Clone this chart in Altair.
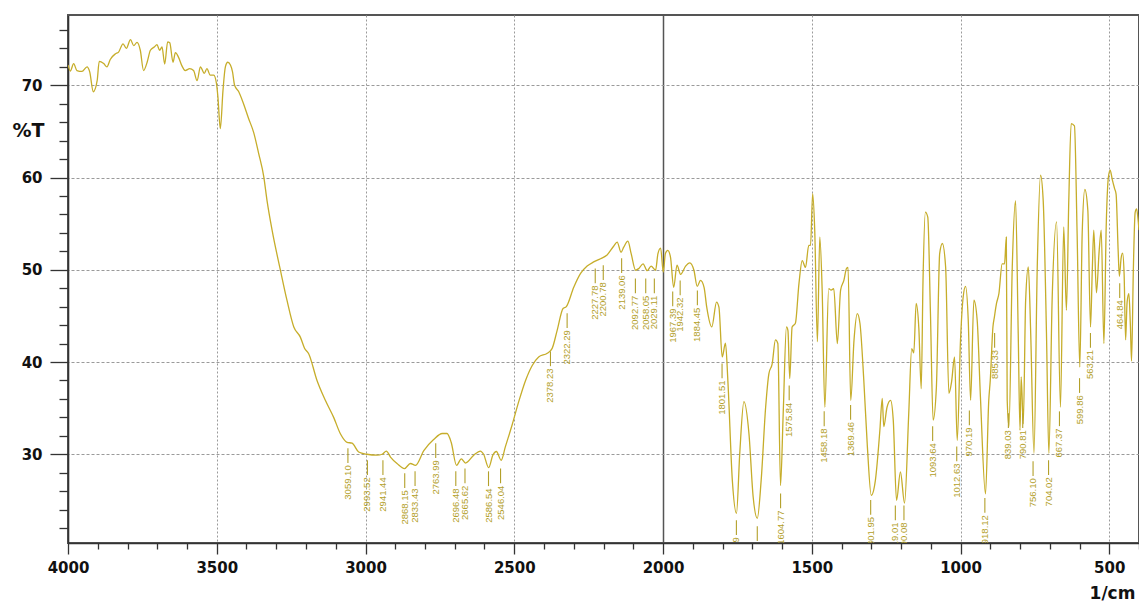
import altair as alt
import pandas as pd

# ---- spectrum (wavenumber in 1/cm, transmittance in %T) ----
wavenumber = [
    4000, 3992, 3981, 3970, 3953, 3936, 3927, 3915, 3902, 3895, 3880, 3869, 3858, 3841, 3830,
    3815, 3804, 3790, 3779, 3768, 3757, 3746, 3734, 3723, 3710, 3701, 3692, 3684, 3675, 3665,
    3658, 3647, 3639, 3628, 3617, 3606, 3591, 3578, 3566, 3555, 3542, 3533, 3522, 3510, 3501,
    3496, 3488, 3479, 3471, 3463, 3454, 3447, 3440, 3426, 3410, 3393, 3376, 3359, 3342, 3331,
    3314, 3286, 3264, 3241, 3219, 3205, 3191, 3163, 3135, 3107, 3084, 3062, 3045, 3023, 2995,
    2961, 2944, 2930, 2916, 2894, 2869, 2849, 2832, 2804, 2771, 2742, 2726, 2712, 2694, 2678,
    2664, 2636, 2614, 2603, 2586, 2572, 2560, 2544, 2530, 2507, 2485, 2462, 2440, 2418, 2389,
    2373, 2356, 2336, 2325, 2300, 2277, 2255, 2233, 2210, 2188, 2166, 2154, 2141, 2132, 2118,
    2107, 2092, 2081, 2067, 2053, 2040, 2025, 2017, 2008, 1999, 1992, 1984, 1975, 1964, 1953,
    1941, 1924, 1910, 1896, 1885, 1874, 1862, 1853, 1836, 1820, 1812, 1801, 1790, 1782, 1767,
    1753, 1742, 1728, 1711, 1697, 1683, 1670, 1655, 1644, 1633, 1622, 1614, 1605, 1596, 1585,
    1580, 1574, 1566, 1555, 1543, 1532, 1521, 1510, 1504, 1497, 1490, 1481, 1473, 1465, 1456,
    1443, 1435, 1426, 1414, 1403, 1392, 1383, 1378, 1369, 1358, 1347, 1338, 1325, 1313, 1300,
    1286, 1271, 1263, 1258, 1247, 1235, 1226, 1215, 1202, 1188, 1174, 1164, 1157, 1149, 1140,
    1132, 1126, 1118, 1110, 1101, 1092, 1081, 1070, 1061, 1050, 1039, 1030, 1020, 1011, 1000,
    991, 983, 974, 966, 955, 944, 933, 916, 905, 900, 891, 886, 879, 871, 860,
    852, 846, 843, 837, 826, 815, 806, 800, 796, 789, 781, 772, 764, 753, 742,
    731, 722, 711, 703, 692, 677, 664, 653, 644, 636, 628, 617, 608, 599, 591,
    582, 572, 563, 557, 552, 543, 534, 527, 518, 510, 503, 497, 490, 482, 477,
    470, 466, 460, 455, 450, 445, 440, 434, 429, 425, 419, 413, 408, 403, 400,
]
transmittance = [
    72.2, 71.55, 72.35, 71.6, 71.5, 72.0, 71.45, 69.3, 70.5, 72.6, 72.35, 72.0, 72.8, 73.4, 73.6,
    74.5, 74.0, 74.95, 74.3, 74.65, 73.8, 71.6, 72.5, 73.8, 74.15, 74.4, 73.8, 74.15, 72.3, 74.7,
    74.6, 72.5, 73.55, 73.0, 72.1, 71.6, 71.8, 71.6, 70.5, 72.0, 71.3, 71.8, 71.1, 71.1, 70.2,
    68.7, 65.3, 69.45, 72.0, 72.5, 72.2, 71.45, 70.0, 69.3, 68.0, 66.4, 64.9, 62.6, 60.1, 57.5,
    54.3, 49.95, 46.7, 43.8, 42.7, 41.5, 40.9, 38.0, 35.85, 34.0, 32.2, 31.3, 31.2, 30.25, 30.0,
    29.9, 30.0, 30.35, 29.7, 29.0, 28.45, 29.0, 28.8, 30.4, 31.6, 32.25, 32.25, 31.3, 28.8, 29.5,
    29.05, 29.9, 30.35, 30.0, 28.55, 29.9, 30.3, 29.35, 30.8, 33.2, 35.7, 38.0, 39.6, 40.55, 40.95,
    41.45, 43.4, 45.8, 46.0, 48.1, 49.6, 50.4, 50.85, 51.2, 51.6, 52.55, 53.0, 51.9, 52.45, 53.1,
    51.75, 49.95, 50.15, 50.65, 49.9, 50.4, 49.95, 51.75, 52.35, 49.75, 51.75, 52.1, 51.4, 48.1, 50.5,
    49.5, 50.4, 50.75, 49.95, 48.2, 48.85, 48.1, 45.95, 43.8, 46.5, 45.95, 40.55, 42.05, 38.0, 27.2,
    23.6, 30.1, 35.7, 32.2, 25.4, 23.05, 27.2, 35.1, 38.75, 39.8, 42.4, 42.0, 26.6, 34.4, 43.8,
    43.4, 38.2, 43.8, 44.2, 48.5, 51.0, 50.25, 52.65, 52.65, 58.25, 54.3, 42.2, 53.55, 47.8, 35.1,
    47.95, 47.8, 47.95, 42.0, 47.8, 48.85, 50.15, 50.25, 35.85, 42.35, 45.25, 44.2, 38.0, 30.8, 25.55,
    27.2, 32.6, 36.05, 33.0, 35.1, 35.85, 33.7, 25.0, 28.1, 24.7, 34.4, 41.45, 41.0, 46.35, 43.65,
    37.1, 48.85, 56.25, 55.7, 45.25, 33.7, 37.3, 51.75, 52.85, 50.3, 36.6, 37.85, 40.55, 31.5, 42.35,
    47.05, 48.2, 44.55, 35.85, 46.7, 44.55, 36.2, 25.7, 35.85, 38.0, 43.8, 44.9, 46.35, 47.4, 50.65,
    50.65, 53.55, 35.85, 33.0, 50.3, 57.5, 43.1, 32.6, 38.4, 33.3, 46.7, 50.3, 43.1, 30.1, 50.3,
    60.25, 57.5, 43.1, 30.1, 46.7, 55.2, 35.1, 54.65, 45.6, 57.5, 65.85, 65.6, 53.9, 39.45, 53.9,
    58.7, 56.45, 43.8, 50.0, 54.3, 47.5, 52.0, 54.3, 42.0, 55.0, 60.0, 60.8, 59.8, 58.8, 58.2,
    52.0, 49.3, 51.3, 51.8, 49.5, 42.4, 46.5, 47.4, 44.0, 40.1, 50.0, 56.2, 56.6, 55.4, 54.3,
]

# ---- peak annotations: label text and the %T level where the label starts ----
peak_labels = [
    "3059.10", "2993.52", "2941.44", "2868.15", "2833.43", "2763.99", "2696.48", "2665.62",
    "2586.54", "2546.04", "2378.23", "2322.29", "2227.78", "2200.78", "2139.06", "2092.77",
    "2058.05", "2029.11", "1967.39", "1942.32", "1884.45", "1801.51", "1753.29", "1683.09",
    "1604.77", "1575.84", "1458.18", "1369.46", "1301.95", "1219.01", "1190.08", "1093.64",
    "1012.63", "970.19", "918.12", "885.33", "839.03", "790.81", "756.10", "704.02",
    "667.37", "599.86", "563.21", "464.84",
]
peak_level = [
    28.8, 27.5, 27.5, 26.1, 26.3, 29.35, 26.3, 26.6,
    26.3, 26.6, 39.3, 43.45, 48.3, 48.65, 49.4, 47.2,
    47.2, 47.2, 45.8, 47.0, 45.9, 38.0, 21.0, 20.35,
    23.9, 35.6, 32.8, 33.5, 23.2, 22.6, 22.6, 31.2,
    29.0, 32.9, 23.4, 41.3, 32.6, 32.6, 27.4, 27.5,
    32.8, 36.4, 41.3, 46.7,
]

x_ticks = list(range(400, 4001, 100))
y_ticks = list(range(22, 77, 2))

LINE_COLOR = "#c6ad2a"
TEXT_COLOR = "#b3a02a"
AXIS_FONT = "DejaVu Sans"

spec = pd.DataFrame({"wn": wavenumber, "t": transmittance})
peaks = pd.DataFrame({
    "label": peak_labels,
    "wn": [float(s) for s in peak_labels],
    "level": peak_level,
})

x_scale = alt.Scale(domain=[400, 4000], reverse=True, nice=False, zero=False)
y_scale = alt.Scale(domain=[20.38, 77.62], nice=False, zero=False)

x_axis = alt.Axis(
    values=x_ticks,
    tickCount=500,
    format="d",
    labelExpr="datum.value % 500 === 0 ? datum.label : ''",
    tickSize={"condition": {"test": "datum.value % 500 === 0", "value": 11}, "value": 6},
    gridOpacity={"condition": {"test": "datum.value % 500 === 0", "value": 1}, "value": 0},
    gridDash={"condition": {"test": "datum.value === 2000", "value": []}, "value": [2, 2]},
    gridColor={"condition": {"test": "datum.value === 2000", "value": "#555555"}, "value": "#9a9a9a"},
    gridWidth={"condition": {"test": "datum.value === 2000", "value": 1.5}, "value": 1},
    labelFlush=False,
    labelOverlap=False,
    labelFont=AXIS_FONT,
    labelFontSize=15,
    labelFontWeight="bold",
    labelColor="#111111",
    labelPadding=6,
    tickColor="#333333",
    tickWidth=1.3,
    domainColor="#333333",
    domainWidth=1.6,
    title="1/cm",
    titleFont=AXIS_FONT,
    titleFontSize=17,
    titleFontWeight="bold",
    titleColor="#111111",
    titleAlign="center",
    titleBaseline="middle",
    titleX=1044,
    titleY=50,
)

y_axis = alt.Axis(
    values=y_ticks,
    tickCount=500,
    format="d",
    labelExpr="datum.value % 10 === 0 ? datum.label : ''",
    tickSize={"condition": {"test": "datum.value % 10 === 0", "value": 18}, "value": 9},
    gridOpacity={"condition": {"test": "datum.value % 10 === 0", "value": 1}, "value": 0},
    gridDash=[3, 2],
    gridColor="#9a9a9a",
    gridWidth=1,
    labelOverlap=False,
    labelFont=AXIS_FONT,
    labelFontSize=15,
    labelFontWeight="bold",
    labelColor="#111111",
    labelPadding=8,
    tickColor="#333333",
    tickWidth=1.3,
    domainColor="#333333",
    domainWidth=1.6,
    title="%T",
    titleFont=AXIS_FONT,
    titleFontSize=19,
    titleFontWeight="bold",
    titleColor="#111111",
    titleAngle=0,
    titleAlign="center",
    titleBaseline="middle",
    titleX=-40,
    titleY=115,
)

line = alt.Chart(spec).mark_line(
    color=LINE_COLOR, strokeWidth=1.3, interpolate="monotone", clip=True
).encode(
    x=alt.X("wn:Q", scale=x_scale, axis=x_axis),
    y=alt.Y("t:Q", scale=y_scale, axis=y_axis),
)

leaders = alt.Chart(peaks).transform_calculate(
    y1="datum.level + 0.25", y2="datum.level + 1.85"
).mark_rule(color=TEXT_COLOR, strokeWidth=1.1, clip=True).encode(
    x="wn:Q", y="y1:Q", y2="y2:Q"
)

texts = alt.Chart(peaks).mark_text(
    angle=270,
    align="right",
    baseline="middle",
    font="Liberation Sans",
    fontSize=9.5,
    color=TEXT_COLOR,
    clip=True,
).encode(x="wn:Q", y="level:Q", text="label:N")

chart = alt.layer(line, leaders, texts).properties(
    width=1071,
    height=528,
    autosize=alt.AutoSizeParams(type="none"),
    padding={"left": 60, "top": 7, "right": 0, "bottom": 58},
    background="white",
).configure_view(stroke="#555555", strokeWidth=2)

chart.save("out.html", embed_options={"renderer": "svg", "actions": False})
